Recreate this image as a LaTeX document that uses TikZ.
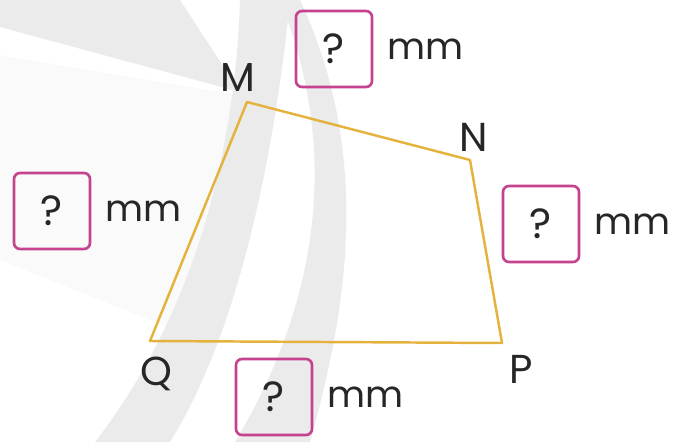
\documentclass[tikz,border=0pt]{standalone}
\usepackage{fontspec}
\setmainfont{Poppins}
\usetikzlibrary{positioning}
\definecolor{edgecolor}{RGB}{230,178,62}
\definecolor{boxcolor}{RGB}{196,66,142}
\definecolor{markcolor}{gray}{0.92}
\definecolor{marklight}{gray}{0.98}
\tikzset{
	vertex/.style = {font=\fontsize{23}{27}\selectfont, text=black!85, inner sep=0pt},
	answer/.style = {
		draw=boxcolor, line width=1.5pt, rounded corners=0.12cm,
		minimum size=1.52cm, inner sep=0pt,
		font=\fontsize{24}{28}\selectfont, text=black!85
	},
	unit/.style = {font=\fontsize{21}{25}\selectfont, text=black!85, inner sep=0pt},
	side/.style = {draw=edgecolor, line width=1.4pt, line join=round}
}

\begin{document}
\begin{tikzpicture}[x=0.02cm, y=-0.02cm]
	\useasboundingbox (0,0) rectangle (678,442);
	% faint watermark behind the figure
	\fill[marklight] (0,55) -- (240,95) -- (175,330) -- (0,260) -- cycle;
	\fill[markcolor] (0,0) -- (180,0) -- (240,92) -- (0,27) -- cycle;
	\fill[markcolor] (240,0) -- (290,0) .. controls (275,150) and (240,330) .. (170,442)
		-- (95,442) .. controls (190,320) and (235,160) .. (240,0) -- cycle;
	\fill[markcolor] (280,0) -- (300,0) .. controls (370,150) and (350,300) .. (310,442)
		-- (235,442) .. controls (320,300) and (340,150) .. (280,0) -- cycle;

	% quadrilateral
	\coordinate (M) at (247,102);
	\coordinate (N) at (470,160);
	\coordinate (P) at (502,343);
	\coordinate (Q) at (150,341);
	\draw[side] (M) -- (N) -- (P) -- (Q) -- cycle;

	\node[vertex] (labelM) at (238,78) {M};
	\node[vertex] (labelN) at (474,137) {N};
	\node[vertex] (labelP) at (521,369) {P};
	\node[vertex] (labelQ) at (156,374) {Q};

	% boxes for the lengths
	\foreach \name/\x/\y in {top/334/49, left/52/211, right/541/224, bottom/274/397}
	{
		\node[answer] (box\name) at (\x,\y) {?};
		\node[unit, right=0.28cm of box\name] (unit\name) {mm};
	}
\end{tikzpicture}
\end{document}
